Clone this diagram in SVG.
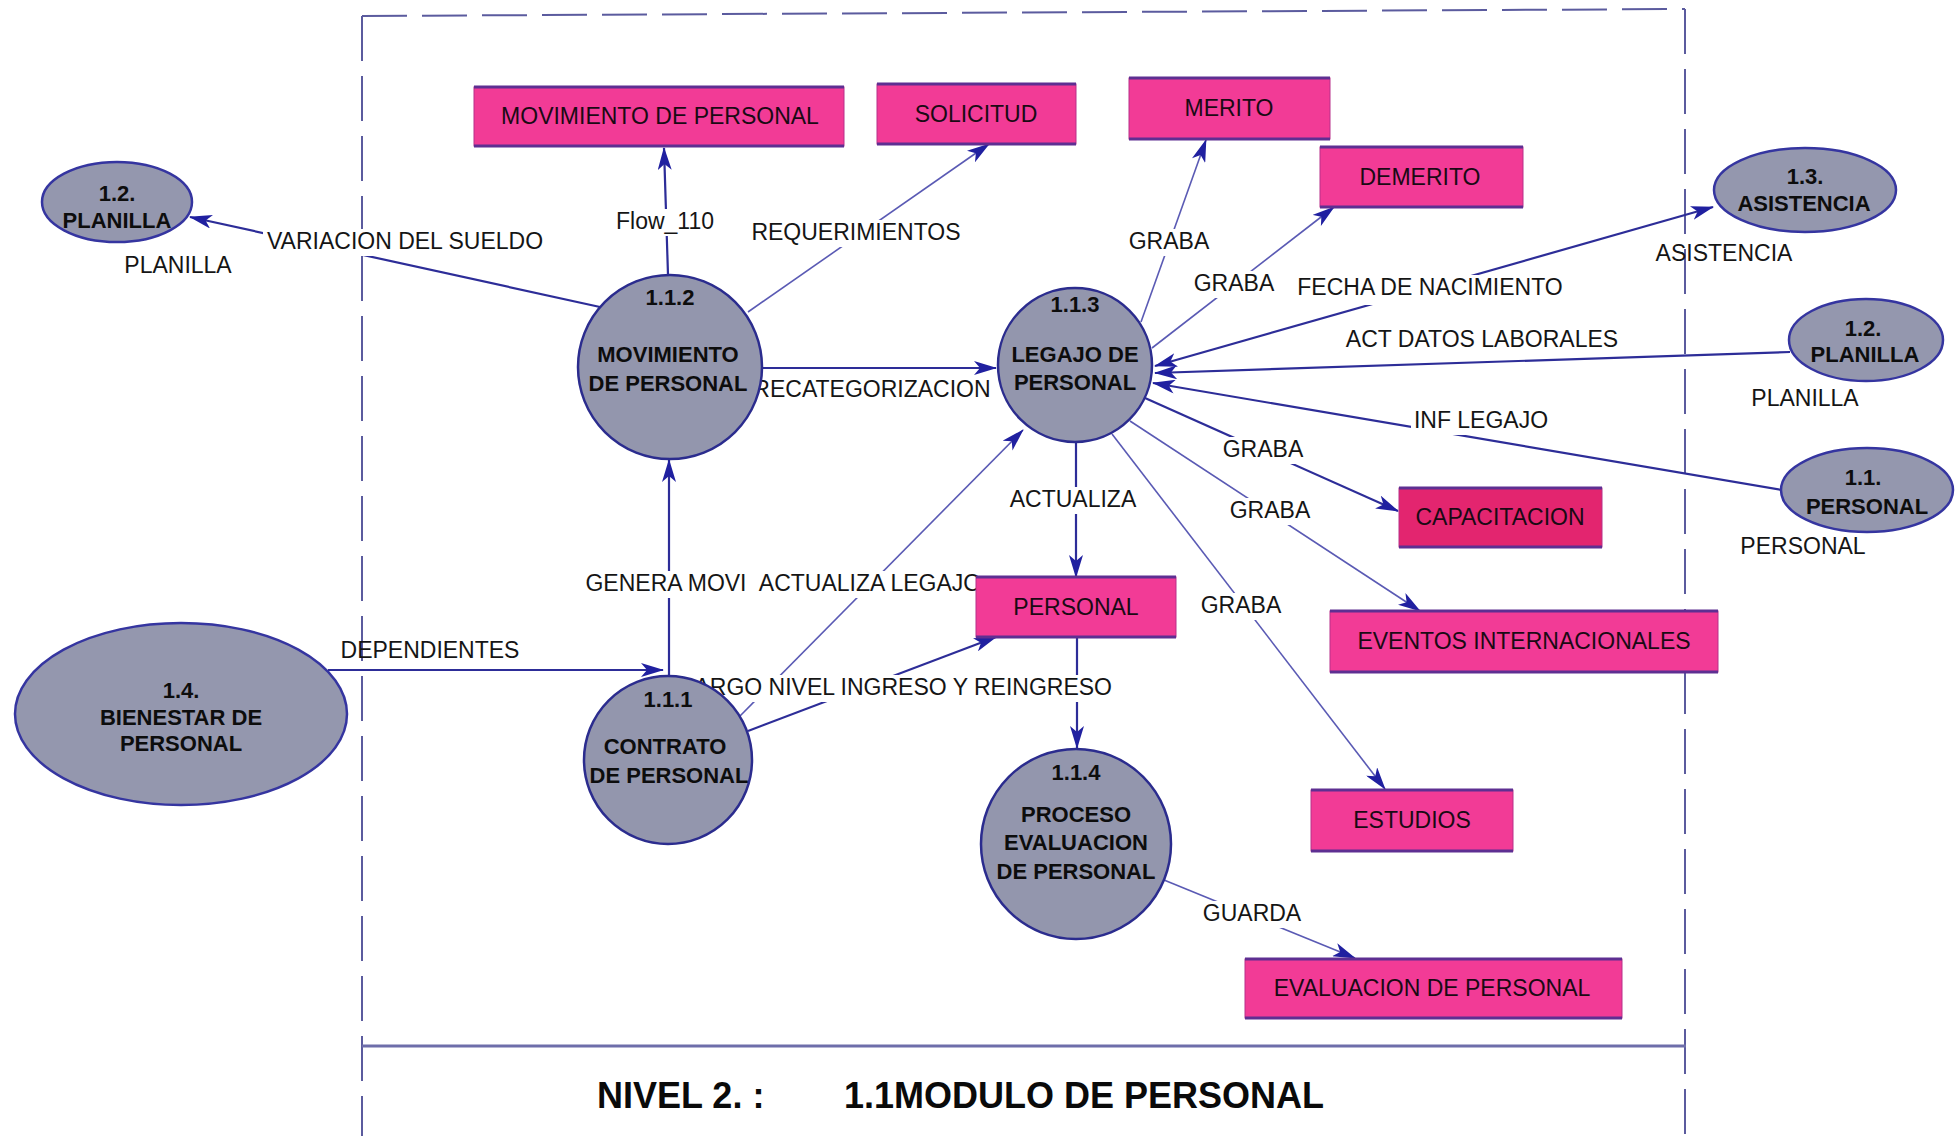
<svg xmlns="http://www.w3.org/2000/svg" width="1957" height="1136" viewBox="0 0 1957 1136">
<style>
.frame{stroke:#5b5b9e;stroke-width:2;fill:none;stroke-dasharray:45 15}
.base{stroke:#6e6eaa;stroke-width:3;fill:none}
.c{stroke:#2d2d98;stroke-width:2.2;fill:none;marker-end:url(#arr)}
.cl{stroke:#5a5ab4;stroke-width:1.6;fill:none;marker-end:url(#arr)}
.lbl{font-family:"Liberation Sans",Arial,sans-serif;font-size:23px;fill:#151515;text-anchor:middle}
.bg{fill:#ffffff}
.proc{fill:#9396ad;stroke:#2b2c8e;stroke-width:2.5}
.ext{fill:#9497ae;stroke:#3535a0;stroke-width:2.5}
.nt{font-family:"Liberation Sans",Arial,sans-serif;font-size:22px;font-weight:bold;fill:#0d0d0d;text-anchor:middle}
.store{fill:#f23b96;stroke:#b8308a;stroke-width:1}
.cap{fill:#e3256f;stroke:#b8308a;stroke-width:1}
.edge{stroke:#5e2f92;stroke-width:3}
.st{font-family:"Liberation Sans",Arial,sans-serif;font-size:23px;fill:#1a0a14;text-anchor:middle}
.title{font-family:"Liberation Sans",Arial,sans-serif;font-size:36px;font-weight:bold;fill:#0a0a0a}
</style>
<defs>
<marker id="arr" markerUnits="userSpaceOnUse" markerWidth="23" markerHeight="14" refX="22" refY="7" orient="auto-start-reverse">
<path d="M0,0 L23,7 L0,14 L6,7 z" fill="#2020a0"/>
</marker>
</defs>
<rect width="1957" height="1136" fill="#ffffff"/>
<g id="frame">
<line class="frame" x1="362" y1="16" x2="1685" y2="9"/>
<line class="frame" x1="362" y1="16" x2="362" y2="1136"/>
<line class="frame" x1="1685" y1="9" x2="1685" y2="1136"/>
<line class="base" x1="362" y1="1046" x2="1686" y2="1046"/>
</g>
<g id="connectors">
<line class="c" x1="600" y1="307" x2="190" y2="217"/>
<line class="c" x1="668" y1="275" x2="664" y2="148"/>
<line class="cl" x1="748" y1="312" x2="989" y2="144"/>
<line class="c" x1="762" y1="368" x2="996" y2="368"/>
<line class="cl" x1="1141" y1="322" x2="1206" y2="140"/>
<line class="cl" x1="1152" y1="348" x2="1334" y2="207"/>
<line class="c" x1="1713" y1="207" x2="1155" y2="366" style="marker-start:url(#arr)"/>
<line class="c" x1="1790" y1="352" x2="1155" y2="373"/>
<line class="c" x1="1782" y1="490" x2="1153" y2="383"/>
<line class="c" x1="1145" y1="398" x2="1398" y2="511"/>
<line class="cl" x1="1130" y1="421" x2="1420" y2="611"/>
<line class="cl" x1="1112" y1="434" x2="1385" y2="789"/>
<line class="c" x1="1076" y1="443" x2="1076" y2="577"/>
<line class="c" x1="1077" y1="637" x2="1077" y2="748"/>
<line class="c" x1="669" y1="677" x2="669" y2="460"/>
<line class="cl" x1="740" y1="716" x2="1023" y2="430"/>
<line class="c" x1="748" y1="731" x2="996" y2="637"/>
<line class="c" x1="328" y1="670" x2="663" y2="670"/>
<line class="cl" x1="1164" y1="880" x2="1355" y2="958"/>
<g id="labels">
<rect class="bg" x="263" y="229" width="284" height="27"/><text class="lbl" x="405" y="249">VARIACION DEL SUELDO</text>
<rect class="bg" x="612" y="209" width="106" height="27"/><text class="lbl" x="665" y="229">Flow_110</text>
<rect class="bg" x="748" y="220" width="216" height="27"/><text class="lbl" x="856" y="240">REQUERIMIENTOS</text>
<text class="lbl" x="872" y="397">RECATEGORIZACION</text>
<rect class="bg" x="1126" y="229" width="86" height="27"/><text class="lbl" x="1169" y="249">GRABA</text>
<rect class="bg" x="1191" y="271" width="86" height="27"/><text class="lbl" x="1234" y="291">GRABA</text>
<rect class="bg" x="1293" y="275" width="274" height="30"/><text class="lbl" x="1430" y="295">FECHA DE NACIMIENTO</text>
<text class="lbl" x="1482" y="347">ACT DATOS LABORALES</text>
<rect class="bg" x="1411" y="408" width="140" height="27"/><text class="lbl" x="1481" y="428">INF LEGAJO</text>
<rect class="bg" x="1220" y="437" width="86" height="27"/><text class="lbl" x="1263" y="457">GRABA</text>
<rect class="bg" x="1227" y="498" width="86" height="27"/><text class="lbl" x="1270" y="518">GRABA</text>
<rect class="bg" x="1198" y="593" width="86" height="27"/><text class="lbl" x="1241" y="613">GRABA</text>
<rect class="bg" x="1007" y="487" width="132" height="27"/><text class="lbl" x="1073" y="507">ACTUALIZA</text>
<rect class="bg" x="582" y="571" width="168" height="27"/><text class="lbl" x="666" y="591">GENERA MOVI</text>
<rect class="bg" x="756" y="571" width="229" height="27"/><text class="lbl" x="870" y="591">ACTUALIZA LEGAJO</text>
<rect class="bg" x="690" y="675" width="425" height="27"/><text class="lbl" x="1112" y="695" style="text-anchor:end">ARGO NIVEL INGRESO Y REINGRESO</text>
<text class="lbl" x="430" y="658">DEPENDIENTES</text>
<rect class="bg" x="1200" y="901" width="104" height="27"/><text class="lbl" x="1252" y="921">GUARDA</text>
</g>
</g>
<g id="store-movimiento"><rect class="store" x="474" y="87" width="370" height="59"/><line class="edge" x1="474" y1="87" x2="844" y2="87"/><line class="edge" x1="474" y1="146" x2="844" y2="146"/><text class="st" x="660" y="124">MOVIMIENTO DE PERSONAL</text></g>
<g id="store-solicitud"><rect class="store" x="877" y="84" width="199" height="60"/><line class="edge" x1="877" y1="84" x2="1076" y2="84"/><line class="edge" x1="877" y1="144" x2="1076" y2="144"/><text class="st" x="976" y="122">SOLICITUD</text></g>
<g id="store-merito"><rect class="store" x="1129" y="78" width="201" height="61"/><line class="edge" x1="1129" y1="78" x2="1330" y2="78"/><line class="edge" x1="1129" y1="139" x2="1330" y2="139"/><text class="st" x="1229" y="116">MERITO</text></g>
<g id="store-demerito"><rect class="store" x="1320" y="147" width="203" height="60"/><line class="edge" x1="1320" y1="147" x2="1523" y2="147"/><line class="edge" x1="1320" y1="207" x2="1523" y2="207"/><text class="st" x="1420" y="185">DEMERITO</text></g>
<g id="store-capacitacion"><rect class="cap" x="1399" y="488" width="203" height="59"/><line class="edge" x1="1399" y1="488" x2="1602" y2="488"/><line class="edge" x1="1399" y1="547" x2="1602" y2="547"/><text class="st" x="1500" y="525">CAPACITACION</text></g>
<g id="store-eventos"><rect class="store" x="1330" y="611" width="388" height="61"/><line class="edge" x1="1330" y1="611" x2="1718" y2="611"/><line class="edge" x1="1330" y1="672" x2="1718" y2="672"/><text class="st" x="1524" y="649">EVENTOS INTERNACIONALES</text></g>
<g id="store-estudios"><rect class="store" x="1311" y="790" width="202" height="61"/><line class="edge" x1="1311" y1="790" x2="1513" y2="790"/><line class="edge" x1="1311" y1="851" x2="1513" y2="851"/><text class="st" x="1412" y="828">ESTUDIOS</text></g>
<g id="store-evaluacion"><rect class="store" x="1245" y="959" width="377" height="59"/><line class="edge" x1="1245" y1="959" x2="1622" y2="959"/><line class="edge" x1="1245" y1="1018" x2="1622" y2="1018"/><text class="st" x="1432" y="996">EVALUACION DE PERSONAL</text></g>
<g id="store-personal"><rect class="store" x="976" y="577" width="200" height="60"/><line class="edge" x1="976" y1="577" x2="1176" y2="577"/><line class="edge" x1="976" y1="637" x2="1176" y2="637"/><text class="st" x="1076" y="615">PERSONAL</text></g>
<g id="p112"><circle class="proc" cx="670" cy="367" r="92"/><text class="nt" x="670" y="305">1.1.2</text><text class="nt" x="668" y="362">MOVIMIENTO</text><text class="nt" x="668" y="391">DE PERSONAL</text></g>
<g id="p113"><circle class="proc" cx="1075" cy="365" r="77"/><text class="nt" x="1075" y="312">1.1.3</text><text class="nt" x="1075" y="362">LEGAJO DE</text><text class="nt" x="1075" y="390">PERSONAL</text></g>
<g id="p111"><circle class="proc" cx="668" cy="760" r="84"/><text class="nt" x="668" y="707">1.1.1</text><text class="nt" x="665" y="754">CONTRATO</text><text class="nt" x="669" y="783">DE PERSONAL</text></g>
<g id="p114"><circle class="proc" cx="1076" cy="844" r="95"/><text class="nt" x="1076" y="780">1.1.4</text><text class="nt" x="1076" y="822">PROCESO</text><text class="nt" x="1076" y="850">EVALUACION</text><text class="nt" x="1076" y="879">DE PERSONAL</text></g>
<g id="e12-left"><ellipse class="ext" cx="117" cy="202" rx="75" ry="40"/><text class="nt" x="117" y="201">1.2.</text><text class="nt" x="117" y="228">PLANILLA</text><text class="lbl" x="178" y="273">PLANILLA</text></g>
<g id="e13"><ellipse class="ext" cx="1805" cy="190" rx="91" ry="42"/><text class="nt" x="1805" y="184">1.3.</text><text class="nt" x="1804" y="211">ASISTENCIA</text><text class="lbl" x="1724" y="261">ASISTENCIA</text></g>
<g id="e12-right"><ellipse class="ext" cx="1866" cy="340" rx="77" ry="41"/><text class="nt" x="1863" y="336">1.2.</text><text class="nt" x="1865" y="362">PLANILLA</text><text class="lbl" x="1805" y="406">PLANILLA</text></g>
<g id="e11"><ellipse class="ext" cx="1867" cy="490" rx="86" ry="42"/><text class="nt" x="1863" y="485">1.1.</text><text class="nt" x="1867" y="514">PERSONAL</text><text class="lbl" x="1803" y="554">PERSONAL</text></g>
<g id="e14"><ellipse class="ext" cx="181" cy="714" rx="166" ry="91"/><text class="nt" x="181" y="698">1.4.</text><text class="nt" x="181" y="725">BIENESTAR DE</text><text class="nt" x="181" y="751">PERSONAL</text></g>
<g id="title"><text class="title" x="597" y="1108">NIVEL 2. :</text><text class="title" x="844" y="1108">1.1MODULO DE PERSONAL</text></g>
</svg>
